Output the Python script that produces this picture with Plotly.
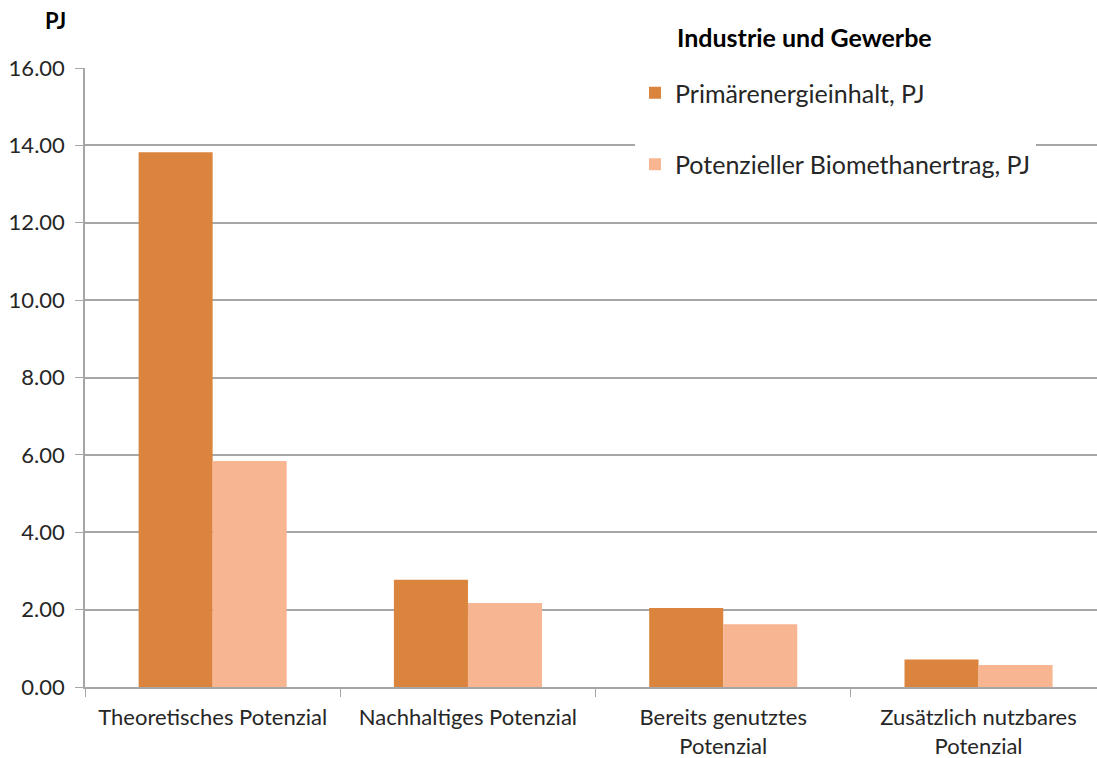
import plotly.graph_objects as go

# Categories and series values (PJ)
categories = [
    "Theoretisches Potenzial",
    "Nachhaltiges Potenzial",
    "Bereits genutztes<br>Potenzial",
    "Zusätzlich nutzbares<br>Potenzial",
]
primaerenergie = [13.82, 2.77, 2.04, 0.71]
biomethan = [5.84, 2.17, 1.62, 0.57]

series_names = ["Primärenergieinhalt, PJ", "Potenzieller Biomethanertrag, PJ"]
y_ticks = [0, 2, 4, 6, 8, 10, 12, 14, 16]
y_tick_text = [f"{v:.2f}" for v in y_ticks]

FONT = "Lato, Carlito, Calibri, sans-serif"
TEXT = "#262626"
GRID = "#A6A6A6"

fig = go.Figure()
fig.add_trace(go.Bar(
    x=categories, y=primaerenergie, name=series_names[0],
    marker=dict(color="#DB843D", line=dict(width=0)),
    legendgroup="a",
))
fig.add_trace(go.Bar(
    x=categories, y=biomethan, name=series_names[1],
    marker=dict(color="#F8B592", line=dict(width=0)),
    legendgroup="b",
))

fig.update_layout(
    width=1097, height=758,
    margin=dict(l=85, r=0, t=68, b=71),
    paper_bgcolor="white", plot_bgcolor="white",
    barmode="group", bargap=0.42, bargroupgap=0,
    font=dict(family=FONT, size=22, color=TEXT),
    showlegend=True,
    legend=dict(
        x=(635 - 85) / 1012, xanchor="left",
        y=(687 - 57) / 619, yanchor="top",
        bgcolor="white", borderwidth=0,
        title=dict(text=" ", side="top", font=dict(family=FONT, size=10)),
        font=dict(family=FONT, size=25, color=TEXT),
        tracegroupgap=36, itemwidth=30,
        traceorder="grouped",
    ),
    xaxis=dict(
        type="category", range=[-0.5, 3.464],
        showline=True, linecolor=GRID, linewidth=1.5,
        ticks="outside", tickson="boundaries", ticklen=8, tickcolor=GRID,
        tickfont=dict(family=FONT, size=22, color=TEXT),
        ticklabelstandoff=10,
        showgrid=False,
    ),
    yaxis=dict(
        range=[0, 16], tickvals=y_ticks, ticktext=y_tick_text,
        showline=True, linecolor=GRID, linewidth=1.5,
        ticks="outside", ticklen=8, tickcolor=GRID,
        showgrid=True, gridcolor=GRID, gridwidth=1.5,
        zeroline=False,
        tickfont=dict(family=FONT, size=22, color=TEXT),
        ticklabelstandoff=6,
    ),
    annotations=[
        dict(text="<b>Industrie und Gewerbe</b>", xref="paper", yref="paper",
             x=(675 - 85) / 1012, y=(687 - 37) / 619, xanchor="left", yanchor="middle",
             showarrow=False, font=dict(family=FONT, size=25, color="black")),
        dict(text="<b>PJ</b>", xref="paper", yref="paper",
             x=(55 - 85) / 1012, y=(687 - 20) / 619, xanchor="center", yanchor="middle",
             showarrow=False, font=dict(family=FONT, size=22, color="black")),
    ],
)

fig.write_html("out.html")
